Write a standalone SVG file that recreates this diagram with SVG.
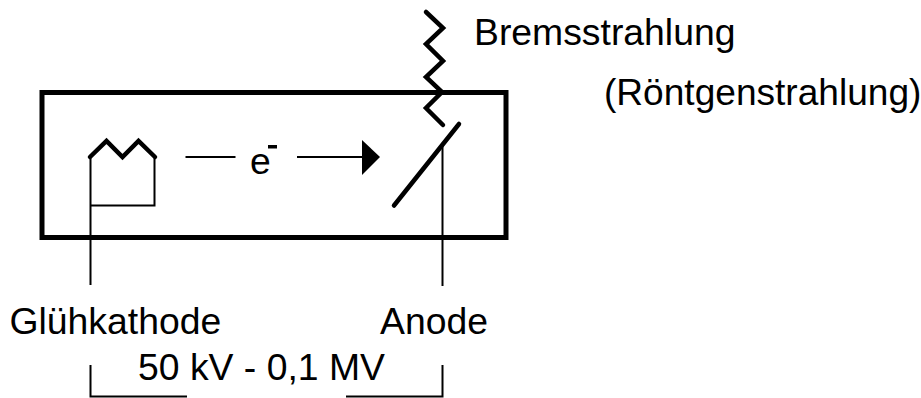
<svg xmlns="http://www.w3.org/2000/svg" width="921" height="398" viewBox="0 0 921 398">
<style>
text{font-family:"Liberation Sans",Arial,sans-serif;font-size:37.33px;fill:#000}
.thick{fill:none;stroke:#000;stroke-width:4.500;stroke-linecap:round;stroke-linejoin:miter}
.thin{fill:none;stroke:#000;stroke-width:2}
</style>
<rect width="921" height="398" fill="#fff"/>
<g id="tube"><rect x="42" y="92.500" width="464" height="145" fill="none" stroke="#000" stroke-width="5"/></g>
<g id="cathode">
<path class="thin" d="M90.500 157V285M154.500 157V205.500H90.500"/>
<path class="thick" d="M90 157L106.500 141L122.500 157L138.500 141L155 157"/>
<text x="9.500" y="334">Glühkathode</text>
</g>
<g id="anode">
<path class="thick" d="M394 205.500L459 124"/>
<path class="thin" d="M442.500 145V286"/>
<text x="380" y="334">Anode</text>
</g>
<g id="radiation">
<path class="thick" d="M426 12L443 28L426 44L443 61L426 77L442 92L426 108L443 125"/>
<text x="474" y="45">Bremsstrahlung</text>
<text x="604" y="105" style="font-size:37.1px">(Röntgenstrahlung)</text>
</g>
<g id="electron">
<text x="250" y="174">e</text>
</g>
<g id="connectors">
<path class="thin" d="M185.500 157H235.500M297 157H365"/>
<path d="M362 140L380 157L362 175Z" fill="#000"/>
<path d="M268 145H277V148.500H268Z" fill="#000"/>
<path class="thin" d="M90.500 365V396.500H187M442.500 365V396.500H346"/>
</g>
<g id="voltage">
<text x="138" y="380">50 kV - 0,1 MV</text>
</g>
</svg>
